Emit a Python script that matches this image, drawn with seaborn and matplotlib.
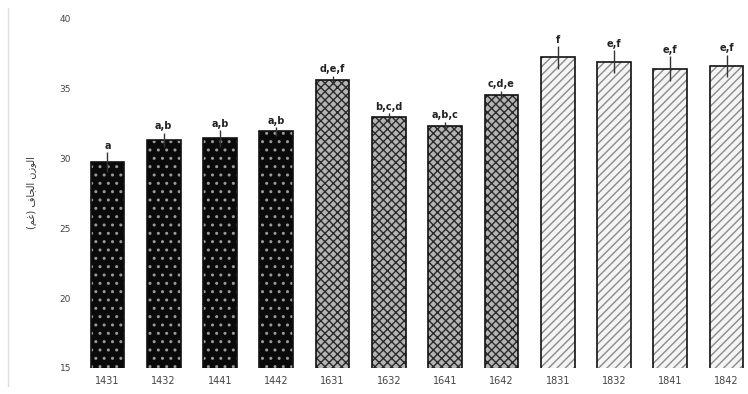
import numpy as np
import pandas as pd
import matplotlib
matplotlib.use("Agg")
import matplotlib.pyplot as plt
import seaborn as sns

# data
samples = ["1431", "1432", "1441", "1442", "1631", "1632",
           "1641", "1642", "1831", "1832", "1841", "1842"]
values = [29.7, 31.3, 31.4, 31.9, 35.6, 32.9, 32.3, 34.5, 37.2, 36.9, 36.4, 36.6]
errors = [0.7, 0.5, 0.6, 0.3, 0.3, 0.3, 0.3, 0.3, 0.8, 0.8, 0.9, 0.8]
letters = ["a", "a,b", "a,b", "a,b", "d,e,f", "b,c,d",
           "a,b,c", "c,d,e", "f", "e,f", "e,f", "e,f"]
groups = ["14"] * 4 + ["16"] * 4 + ["18"] * 4
yticks = [15, 20, 25, 30, 35, 40]

# y label, arabic letters already shaped and put in visual order
ylabel = "(\ufee2\ufecf) \ufed1\ufe8e\ufea0\ufedf\ufe8d \ufee5\ufeaf\ufeee\ufedf\ufe8d"

df = pd.DataFrame({"sample": samples, "value": values, "group": groups})

sns.set_style("white")
fig = plt.figure(figsize=(7.48, 3.94), dpi=100)
ax = fig.add_axes([0.106, 0.066, 0.894, 0.888])

sns.barplot(data=df, x="sample", y="value", order=samples, color="white",
            width=0.6, errorbar=None, ax=ax, zorder=2)

styles = {"14": dict(face="#0a0a0a", hatch="..", hcol="#9a9a9a"),
          "16": dict(face="#b4b4b4", hatch="xxxx", hcol="#2a2a2a"),
          "18": dict(face="#f4f4f4", hatch="////", hcol="#8a8a8a")}

for bar, g in zip(ax.patches, groups):
    s = styles[g]
    bar.set_facecolor(s["face"])
    bar.set_hatch(s["hatch"])
    bar.set_edgecolor(s["hcol"])
    bar.set_linewidth(0)
    # outline on top
    ax.add_patch(plt.Rectangle(bar.get_xy(), bar.get_width(), bar.get_height(),
                               fill=False, edgecolor="#111111", linewidth=1.2,
                               zorder=3))

x = np.arange(len(samples))
ax.errorbar(x, values, yerr=errors, fmt="none", ecolor="#333333",
            elinewidth=1.0, capsize=0, zorder=4)

for xi, v, e, t in zip(x, values, errors, letters):
    ax.text(xi, v + e + 0.1, t, ha="center", va="bottom", fontsize=7,
            fontweight="bold", color="#222222")

ax.set_ylim(15, 40)
ax.set_xlim(-0.5, 11.38)
ax.set_yticks(yticks)
ax.set_yticklabels([str(t) for t in yticks], fontsize=6.5, color="#444444")
ax.tick_params(axis="x", labelsize=7, colors="#444444", length=0, pad=6)
ax.tick_params(axis="y", length=0, pad=6)
ax.set_xlabel("")
ax.set_ylabel(ylabel, fontsize=7, color="#333333", family=["DejaVu Sans"],
              labelpad=16)
for sp in ax.spines.values():
    sp.set_visible(False)

# faint frame line at the far left of the picture
fig.add_artist(plt.Line2D([0.011, 0.011], [0.02, 0.98], color="#dddddd",
                          linewidth=1, transform=fig.transFigure))

fig.savefig("out.png", dpi=100)
